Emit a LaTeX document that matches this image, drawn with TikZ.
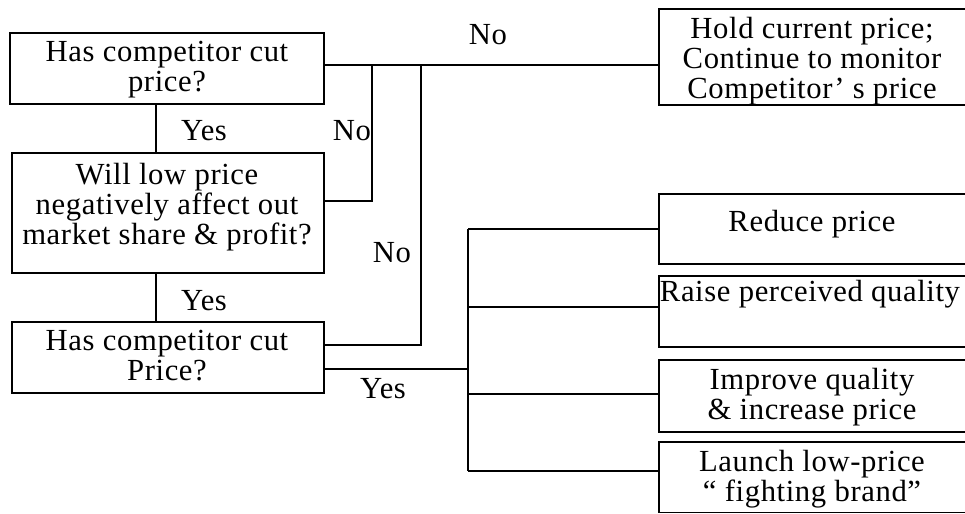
\documentclass[tikz,border=0pt]{standalone}
\usepackage{fontspec}
\setmainfont{Liberation Serif}[LetterSpace=2]
\usetikzlibrary{fit}
\begin{document}
\begin{tikzpicture}[x=0.75pt, y=-0.75pt, line width=1.1pt,
  box/.style={draw, rectangle, inner sep=0pt},
  txt/.style={inner sep=0pt, align=center, anchor=north,
    font=\fontsize{23}{22.5}\selectfont},
  lbl/.style={inner sep=0pt, anchor=base,
    font=\fontsize{23}{22.5}\selectfont}]
\useasboundingbox (0,0) rectangle (965,514);

% decision boxes
\node[box, fit={(10,33) (324,104)}]  (b1) {};
\node[box, fit={(12,153) (324,273)}] (b2) {};
\node[box, fit={(12,322) (324,393)}] (b3) {};

% outcome boxes (run off the right edge)
\node[box, fit={(659,9) (970,105)}]    (hold) {};
\node[box, fit={(659,194) (970,264)}]  (r1) {};
\node[box, fit={(659,276) (970,347)}]  (r2) {};
\node[box, fit={(659,360) (970,432)}]  (r3) {};
\node[box, fit={(659,442) (970,512.5)}] (r4) {};

% box texts
\node[txt] (t1) at (167,40) {Has competitor cut\\price?};
\node[txt] (t2) at (167,162) {Will low price\\negatively affect out\\market share \& profit?};
\node[txt] (t3) at (167,329) {Has competitor cut\\Price?};
\node[txt] (th) at (812,16) {Hold current price;\\Continue to monitor\\Competitor’ s price};
\node[txt] (tr1) at (812,209) {Reduce price};
\node[txt] (tr2) at (810,279) {Raise perceived quality};
\node[txt] (tr3) at (812,367) {Improve quality\\\& increase price};
\node[txt] (tr4) at (812,449) {Launch low-price\\“ fighting brand”};

% junction points
\coordinate (k)  at (156,0);
\coordinate (n1) at (372,65);
\coordinate (n2) at (421,65);
\coordinate (c2) at (372,201);
\coordinate (c3) at (421,345);
\coordinate (y3) at (468,369);
\coordinate (bt) at (468,229);
\coordinate (bb) at (468,471);
\coordinate (q2) at (468,307);
\coordinate (q3) at (468,394);

% connectors
\draw (k |- b1.south) -- (k |- b2.north);
\draw (k |- b2.south) -- (k |- b3.north);
\draw (b1.east |- n1) -- (hold.west |- n1);
\draw (b2.east |- c2) -- (c2) -- (n1);
\draw (b3.east |- c3) -- (c3) -- (n2);
\draw (b3.east |- y3) -- (y3);
\draw (bt) -- (bb);
\draw (bt) -- (r1.west |- bt);
\draw (q2) -- (r2.west |- q2);
\draw (q3) -- (r3.west |- q3);
\draw (bb) -- (r4.west |- bb);

% branch labels
\node[lbl] (no1)  at (488,45)  {No};
\node[lbl] (yes1) at (204,140) {Yes};
\node[lbl] (no2)  at (352,140) {No};
\node[lbl] (no3)  at (392,262) {No};
\node[lbl] (yes2) at (204,310) {Yes};
\node[lbl] (yes3) at (383,398) {Yes};
\end{tikzpicture}
\end{document}
